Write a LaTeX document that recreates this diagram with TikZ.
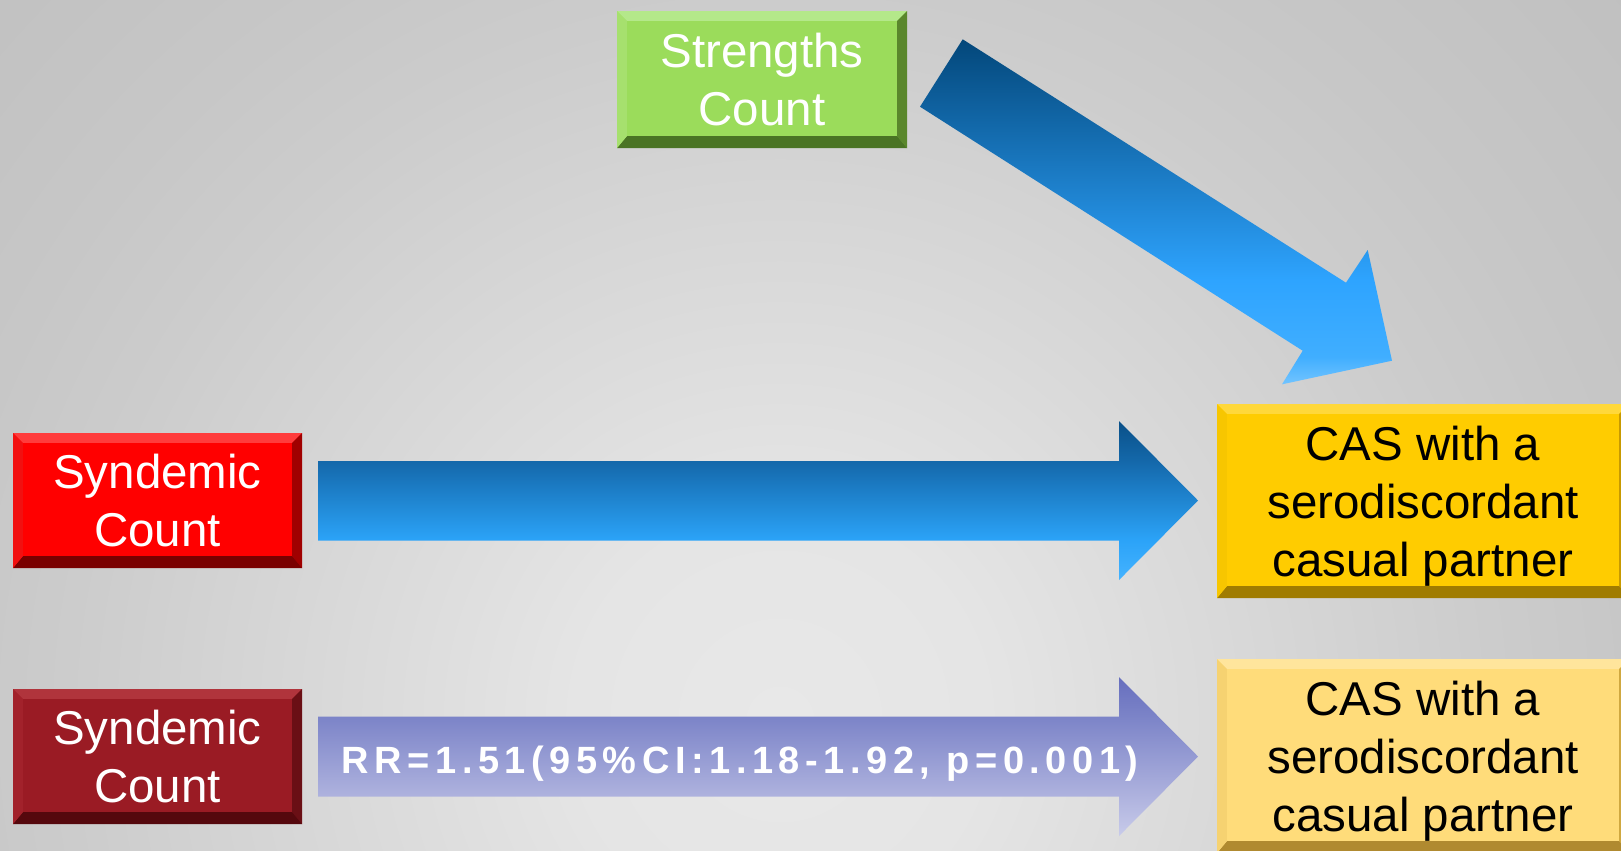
\documentclass[tikz,border=0pt]{standalone}
\usepackage{fontspec}
\setmainfont{Liberation Sans}
\newfontfamily\rrfont[LetterSpace=14.6]{Liberation Sans}
\usetikzlibrary{calc}

% background greys
\definecolor{bg0}{HTML}{E8E8E8}
\definecolor{bg1}{HTML}{E5E5E5}
\definecolor{bg2}{HTML}{CCCCCC}
\definecolor{bg3}{HTML}{C7C7C7}
\definecolor{bg4}{HTML}{C0C0C0}
\definecolor{bg5}{HTML}{BABABA}

% bevelled box palettes
\definecolor{grn-face}{HTML}{9BDC5B}
\definecolor{grn-top}{HTML}{B4E88A}
\definecolor{grn-lf}{HTML}{A6E06E}
\definecolor{grn-rt}{HTML}{5A872C}
\definecolor{grn-bot}{HTML}{4A7424}

\definecolor{red-face}{HTML}{FF0000}
\definecolor{red-top}{HTML}{FF3C3C}
\definecolor{red-lf}{HTML}{F21010}
\definecolor{red-rt}{HTML}{A00000}
\definecolor{red-bot}{HTML}{7A0000}

\definecolor{drd-face}{HTML}{9A1B24}
\definecolor{drd-top}{HTML}{B0343C}
\definecolor{drd-lf}{HTML}{A2222B}
\definecolor{drd-rt}{HTML}{6A0F15}
\definecolor{drd-bot}{HTML}{55080D}

\definecolor{gld-face}{HTML}{FFCC00}
\definecolor{gld-top}{HTML}{FFD83A}
\definecolor{gld-lf}{HTML}{F7C600}
\definecolor{gld-rt}{HTML}{C89A00}
\definecolor{gld-bot}{HTML}{A07C00}

\definecolor{lgd-face}{HTML}{FFDC7A}
\definecolor{lgd-top}{HTML}{FFE59C}
\definecolor{lgd-lf}{HTML}{F6D271}
\definecolor{lgd-rt}{HTML}{D0A840}
\definecolor{lgd-bot}{HTML}{B08A30}

% arrow gradients
\definecolor{ba1}{HTML}{72C4FF}
\definecolor{ba2}{HTML}{40AEFF}
\definecolor{ba3}{HTML}{2EA4FF}
\definecolor{ba4}{HTML}{03477A}

\definecolor{bm1}{HTML}{45B3FF}
\definecolor{bm2}{HTML}{2BA3F8}
\definecolor{bm3}{HTML}{1468AA}
\definecolor{bm4}{HTML}{0A5088}

\definecolor{lv1}{HTML}{C8CBEA}
\definecolor{lv2}{HTML}{AEB2DE}
\definecolor{lv3}{HTML}{7C84C8}
\definecolor{lv4}{HTML}{666EBE}

\pgfdeclareradialshading{bgrad}{\pgfpoint{0bp}{0bp}}{%
  color(0bp)=(bg0); color(6bp)=(bg1); color(21bp)=(bg2);
  color(25bp)=(bg3); color(33bp)=(bg4); color(50bp)=(bg5)}
\pgfdeclareverticalshading{diagblue}{100bp}{%
  color(0bp)=(ba1); color(25bp)=(ba1); color(29bp)=(ba2);
  color(40bp)=(ba3); color(75bp)=(ba4); color(100bp)=(ba4)}
\pgfdeclareverticalshading{midblue}{100bp}{%
  color(0bp)=(bm1); color(25bp)=(bm1); color(37.6bp)=(bm2);
  color(62.4bp)=(bm3); color(75bp)=(bm4); color(100bp)=(bm4)}
\pgfdeclareverticalshading{lavender}{100bp}{%
  color(0bp)=(lv1); color(25bp)=(lv1); color(37.6bp)=(lv2);
  color(62.4bp)=(lv3); color(75bp)=(lv4); color(100bp)=(lv4)}

\tikzset{
  boxtext/.style={font=\fontsize{13.5}{16.5}\selectfont, align=center, inner sep=0pt},
}

% bevelled box: name, x1, y1, x2, y2, palette, text style, text
\newcommand{\bevbox}[8]{%
  \coordinate (#1-A) at (#2,#3);
  \coordinate (#1-B) at (#4,#3);
  \coordinate (#1-C) at (#4,#5);
  \coordinate (#1-D) at (#2,#5);
  \coordinate (#1-a) at ($(#1-A)+(10,10)$);
  \coordinate (#1-b) at ($(#1-B)+(-10,10)$);
  \coordinate (#1-c) at ($(#1-C)+(-10,-12)$);
  \coordinate (#1-d) at ($(#1-D)+(10,-12)$);
  \fill[#6-face] (#1-A) rectangle (#1-C);
  \fill[#6-top] (#1-A) -- (#1-B) -- (#1-b) -- (#1-a) -- cycle;
  \fill[#6-rt] (#1-B) -- (#1-C) -- (#1-c) -- (#1-b) -- cycle;
  \fill[#6-bot] (#1-C) -- (#1-D) -- (#1-d) -- (#1-c) -- cycle;
  \fill[#6-lf] (#1-D) -- (#1-A) -- (#1-a) -- (#1-d) -- cycle;
  \fill[#6-face] (#1-a) -- (#1-b) -- (#1-c) -- (#1-d) -- cycle;
  \node[boxtext, #7] (#1) at ($(#1-A)!0.5!(#1-C)$) {#8};
}

\begin{document}
\begin{tikzpicture}[x=0.01cm, y=-0.01cm]
  \useasboundingbox (0,0) rectangle (1621,850);
  \clip (0,0) rectangle (1621,850);

  % backdrop
  \shade[shading=bgrad] (-70,-130) rectangle (1630,1570);

  % boxes
  \bevbox{str}{617}{11}{907}{148}{grn}{text=white}{Strengths\\Count}
  \bevbox{syn1}{13}{433}{302}{568}{red}{text=white}{Syndemic\\Count}
  \bevbox{syn2}{13}{689}{302}{824}{drd}{text=white}{Syndemic\\Count}
  \bevbox{cas1}{1217}{404}{1629}{598}{gld}{text=black, yshift=-1.4pt}{CAS with a\\serodiscordant\\casual partner}
  \bevbox{cas2}{1217}{659}{1629}{853}{lgd}{text=black, yshift=-1.4pt}{CAS with a\\serodiscordant\\casual partner}

  % diagonal block arrow
  \coordinate (d1) at (962.7,39.3);
  \coordinate (d2) at (1346,282.7);
  \coordinate (d3) at (1367.7,250);
  \coordinate (d4) at (1392,360.7);
  \coordinate (d5) at (1282,384.3);
  \coordinate (d6) at (1302.7,350.7);
  \coordinate (d7) at (920,106.7);
  \shade[shading=diagblue] (d1) -- (d2) -- (d3) -- (d4) -- (d5) -- (d6) -- (d7) -- cycle;

  % middle block arrow
  \shade[shading=midblue] (318,461) -- (1119,461) -- (1119,421) -- (1198,500.5)
    -- (1119,580) -- (1119,540.5) -- (318,540.5) -- cycle;

  % lower block arrow with the estimate
  \shade[shading=lavender] (318,716.5) -- (1119,716.5) -- (1119,677) -- (1198,756.5)
    -- (1119,836) -- (1119,796.5) -- (318,796.5) -- cycle;
  \node[anchor=base west, inner sep=0pt, text=white,
        font=\rrfont\bfseries\fontsize{10.8}{12}\selectfont] (rr) at (341,773)
        {RR=1.51(95\%CI:1.18-1.92, p=0.001)};
\end{tikzpicture}
\end{document}
